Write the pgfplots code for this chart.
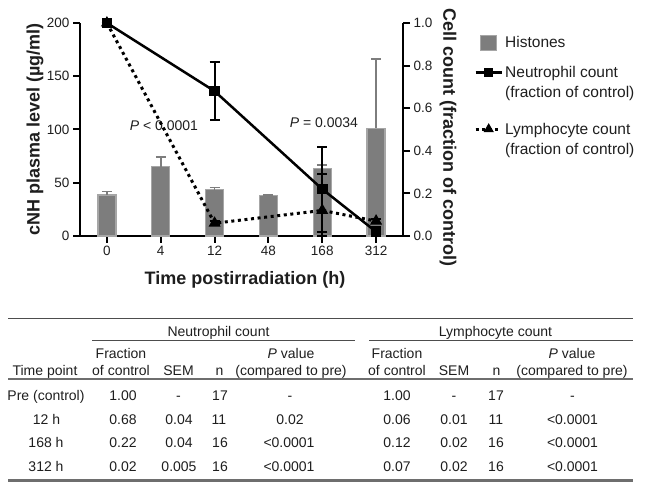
\documentclass[border=0pt]{standalone}
\usepackage{fontspec}
\setmainfont{Liberation Sans}
\usepackage{pgfplots}
\pgfplotsset{compat=1.18}
\definecolor{bargray}{HTML}{7D7D7D}
\definecolor{baredge}{HTML}{A6A6A6}
\definecolor{txt}{HTML}{1E1E1E}
\definecolor{rulec}{HTML}{6E6E6E}
\newcommand{\tc}[3]{\node[anchor=base, inner sep=0pt, text=txt] at (#1,{490-#2}) {#3};}
\begin{document}
\begin{tikzpicture}[x=1pt,y=1pt]
\useasboundingbox (0,0) rectangle (645,490);
\pgfplotsset{
  myaxis/.style={scale only axis, width=323pt, height=213pt, at={(80pt,254pt)}, anchor=south west,
    xmin=-0.5, xmax=5.5, clip=false,
    axis line style={line width=2.5pt, -, black},
    tick style={line width=2pt, black}, tick align=outside, major tick length=7pt,
    tick label style={font=\fontsize{13.5}{15}\selectfont, text=txt},
    /pgf/number format/assume math mode=true,
    label style={font=\bfseries\fontsize{18}{20}\selectfont, text=txt}},
}
\begin{axis}[myaxis, ymin=0, ymax=200, axis x line*=bottom, axis y line*=left,
  xtick={0,1,2,3,4,5}, xticklabels={0,4,12,48,168,312}, ytick={0,50,100,150,200},
  xlabel={Time postirradiation (h)}, ylabel={cNH plasma level (µg/ml)},
  xlabel style={at={([yshift=-44pt]rel axis cs:0.511,0)}, anchor=center},
  ylabel style={at={([xshift=-45pt]rel axis cs:0,0.5)}, anchor=center}]
\addplot[ybar, bar width=18pt, fill=bargray, draw=baredge, line width=1.2pt,
  error bars/.cd, y dir=plus, y explicit,
  error bar style={line width=1.6pt, color=bargray},
  error mark options={rotate=90, mark size=5pt, line width=1.6pt, color=bargray}]
  table[x=x, y=y, y error=e] {
x y e
0 38.5 3.1
1 65 9
2 43.5 2.2
3 38 0.4
4 63.5 3.2
5 101 65
};
\node[font=\fontsize{14}{16}\selectfont, text=txt] at (axis cs:1.06,104) {\textit{P} < 0.0001};
\node[font=\fontsize{14}{16}\selectfont, text=txt] at (axis cs:4.03,106) {\textit{P} = 0.0034};
\end{axis}
\begin{axis}[myaxis, ymin=0, ymax=1, axis x line=none, axis y line*=right,
  ytick={0,0.2,0.4,0.6,0.8,1.0},
  yticklabel style={/pgf/number format/.cd, fixed, fixed zerofill, precision=1},
  ylabel={Cell count (fraction of control)},
  ylabel style={at={([xshift=45pt]rel axis cs:1,0.462)}, anchor=center, rotate=180},
  legend style={at={(1.2198,0.946)}, anchor=north west, draw=none, fill=none, inner sep=0pt,
    font=\fontsize{15.5}{20}\selectfont, text=txt, nodes={anchor=base west, align=left}, row sep=13pt},
  legend image code/.code={\draw[#1, mark size=3pt, mark repeat=2, mark phase=2] plot coordinates {(0pt,25pt) (13pt,25pt) (26pt,25pt)};}]
\addlegendimage{legend image code/.code={\draw[fill=bargray, draw=baredge, line width=1.2pt] (5pt,-2.5pt) rectangle (21pt,12.5pt);}}
\addlegendentry{Histones}
\addplot[black, line width=2.5pt, mark=square*, mark size=4pt, mark options={solid},
  error bars/.cd, y dir=both, y explicit,
  error bar style={line width=2pt, black, solid},
  error mark options={rotate=90, mark size=5pt, line width=2pt, black, solid}]
  table[x=x, y=y, y error plus=ep, y error minus=em] {
x y ep em
0 1.00 0 0
2 0.68 0.135 0.135
4 0.22 0.20 0.20
5 0.02 0.01 0.01
};
\addlegendentry{Neutrophil count\\(fraction of control)}
\addplot[black, line width=3pt, dash pattern=on 3pt off 3.6pt, mark=triangle*, mark size=4pt, mark options={solid},
  error bars/.cd, y dir=both, y explicit,
  error bar style={line width=2pt, black, solid},
  error mark options={rotate=90, mark size=5pt, line width=2pt, black, solid}]
  table[x=x, y=y, y error plus=ep, y error minus=em] {
x y ep em
0 1.00 0 0
2 0.06 0.01 0.01
4 0.12 0.17 0.12
5 0.07 0.01 0.01
};
\addlegendentry{\rule{0pt}{18pt}Lymphocyte count\\(fraction of control)}
\end{axis}
% table
\draw[line width=1pt, rulec!70!black] (8,{490-318.3}) -- (633,{490-318.3});
\draw[line width=1pt, rulec!70!black] (92,{490-340.7}) -- (355,{490-340.7});
\draw[line width=1pt, rulec!70!black] (369,{490-340.7}) -- (633,{490-340.7});
\draw[line width=2pt, rulec] (8,{490-379}) -- (633,{490-379});
\draw[line width=2.5pt, rulec] (8,{490-480.5}) -- (633,{490-480.5});
\begingroup
\fontsize{14}{16.8}\selectfont
\tc{218.5}{337}{Neutrophil count}
\tc{495.5}{337}{Lymphocyte count}
\tc{121}{359}{Fraction}
\tc{291}{359}{\textit{P} value}
\tc{397}{359}{Fraction}
\tc{572}{359}{\textit{P} value}
\tc{45}{376}{Time point}
\tc{121}{376}{of control}
\tc{178.5}{376}{SEM}
\tc{219.5}{376}{n}
\tc{291}{376}{(compared to pre)}
\tc{397}{376}{of control}
\tc{454}{376}{SEM}
\tc{496.5}{376}{n}
\tc{572}{376}{(compared to pre)}
% rows
\tc{46}{401}{Pre (control)}
\tc{123}{401}{1.00}
\tc{178.5}{401}{-}
\tc{220}{401}{17}
\tc{290}{401}{-}
\tc{397}{401}{1.00}
\tc{454}{401}{-}
\tc{496}{401}{17}
\tc{572.5}{401}{-}
\tc{46.5}{424}{12 h}
\tc{123}{424}{0.68}
\tc{179}{424}{0.04}
\tc{219}{424}{11}
\tc{290}{424}{0.02}
\tc{397}{424}{0.06}
\tc{454}{424}{0.01}
\tc{496}{424}{11}
\tc{572.5}{424}{<0.0001}
\tc{46}{448}{168 h}
\tc{123}{448}{0.22}
\tc{179}{448}{0.04}
\tc{220}{448}{16}
\tc{289}{448}{<0.0001}
\tc{397}{448}{0.12}
\tc{454}{448}{0.02}
\tc{496}{448}{16}
\tc{572.5}{448}{<0.0001}
\tc{46}{471}{312 h}
\tc{123}{471}{0.02}
\tc{179}{471}{0.005}
\tc{220}{471}{16}
\tc{289}{471}{<0.0001}
\tc{397}{471}{0.07}
\tc{454}{471}{0.02}
\tc{496}{471}{16}
\tc{572.5}{471}{<0.0001}
\endgroup
\end{tikzpicture}
\end{document}
